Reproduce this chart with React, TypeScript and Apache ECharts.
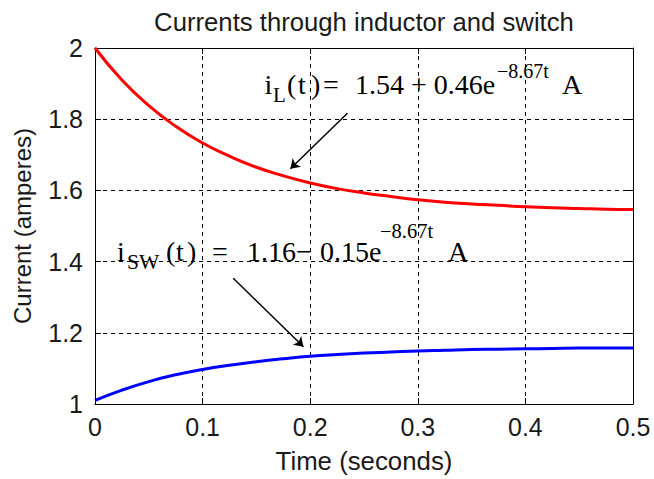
import React, { useEffect, useRef } from "react";
import * as echarts from "echarts";

// Time samples (seconds)
const times = [
  0, 0.025, 0.05, 0.075, 0.1, 0.125, 0.15, 0.175, 0.2, 0.225, 0.25, 0.275, 0.3,
  0.325, 0.35, 0.375, 0.4, 0.425, 0.45, 0.475, 0.5,
];
// Inductor current i_L(t) (amperes)
const inductorCurrent = [
  2.0, 1.91, 1.838, 1.78, 1.733, 1.696, 1.665, 1.641, 1.621, 1.605, 1.593,
  1.583, 1.574, 1.567, 1.562, 1.558, 1.554, 1.551, 1.549, 1.547, 1.546,
];
// Switch current i_SW(t) (amperes)
const switchCurrent = [
  1.01, 1.039, 1.063, 1.082, 1.097, 1.109, 1.119, 1.127, 1.134, 1.139, 1.143,
  1.146, 1.149, 1.151, 1.153, 1.154, 1.155, 1.156, 1.157, 1.157, 1.157,
];
// Axis ranges / ticks
const xRange = [0, 0.5];
const xStep = 0.1;
const yRange = [1, 2];
const yStep = 0.2;
// Arrow annotations in data coordinates [t, current]
const arrowInductor = [
  [0.2346, 1.8167],
  [0.1816, 1.661],
];
const arrowSwitch = [
  [0.1285, 1.353],
  [0.1937, 1.161],
];

const SANS = "'Liberation Sans', Arial, Helvetica, sans-serif";
const SERIF = "'Liberation Serif', 'Times New Roman', serif";

function piece(text: string, x: number, y: number, size: number) {
  return {
    type: "text",
    x,
    y,
    silent: true,
    z: 100,
    style: {
      text,
      fill: "#000",
      font: `${size}px ${SERIF}`,
      align: "left",
      verticalAlign: "middle",
    },
  };
}

export default function App() {
  const ref = useRef<HTMLDivElement>(null);

  useEffect(() => {
    const chart = echarts.init(ref.current!, null, { renderer: "svg" });

    const axisLabelStyle = {
      color: "#1a1a1a",
      fontSize: 25,
      fontFamily: SANS,
    };

    const option: any = {
      animation: false,
      backgroundColor: "#fff",
      title: {
        text: "Currents through inductor and switch",
        left: 359,
        top: 4,
        textAlign: "center",
        textStyle: {
          color: "#1a1a1a",
          fontSize: 25.7,
          fontWeight: "normal",
          fontFamily: SANS,
        },
      },
      grid: { left: 95, right: 21, top: 48, bottom: 71, containLabel: false },
      xAxis: [
        {
          type: "value",
          min: xRange[0],
          max: xRange[1],
          interval: xStep,
          name: "Time (seconds)",
          nameLocation: "middle",
          nameGap: 44,
          nameTextStyle: { ...axisLabelStyle, fontSize: 25.8 },
          axisLine: { show: true, onZero: false, lineStyle: { color: "#000", width: 1 } },
          axisTick: { show: true, inside: true, length: 6, lineStyle: { color: "#000" } },
          axisLabel: { ...axisLabelStyle, margin: 10 },
          splitLine: {
            show: true,
            lineStyle: { color: "#000", width: 1, type: [4, 4] },
          },
        },
        {
          type: "value",
          position: "top",
          min: xRange[0],
          max: xRange[1],
          interval: xStep,
          axisLine: { show: true, onZero: false, lineStyle: { color: "#000", width: 1 } },
          axisTick: { show: true, inside: true, length: 6, lineStyle: { color: "#000" } },
          axisLabel: { show: false },
          splitLine: { show: false },
        },
      ],
      yAxis: [
        {
          type: "value",
          min: yRange[0],
          max: yRange[1],
          interval: yStep,
          name: "Current (amperes)",
          nameLocation: "middle",
          nameRotate: 90,
          nameGap: 61,
          nameTextStyle: { ...axisLabelStyle, fontSize: 24 },
          axisLine: { show: true, onZero: false, lineStyle: { color: "#000", width: 1 } },
          axisTick: { show: true, inside: true, length: 6, lineStyle: { color: "#000" } },
          axisLabel: { ...axisLabelStyle, margin: 12 },
          splitLine: {
            show: true,
            lineStyle: { color: "#000", width: 1, type: [4, 4] },
          },
        },
        {
          type: "value",
          position: "right",
          min: yRange[0],
          max: yRange[1],
          interval: yStep,
          axisLine: { show: true, onZero: false, lineStyle: { color: "#000", width: 1 } },
          axisTick: { show: true, inside: true, length: 6, lineStyle: { color: "#000" } },
          axisLabel: { show: false },
          splitLine: { show: false },
        },
      ],
      series: [
        {
          name: "iL",
          type: "line",
          xAxisIndex: 0,
          yAxisIndex: 0,
          data: times.map((t, i) => [t, inductorCurrent[i]]),
          showSymbol: false,
          smooth: true,
          lineStyle: { color: "#ff0000", width: 3 },
          itemStyle: { color: "#ff0000" },
          z: 5,
          markLine: {
            silent: true,
            symbol: ["none", "arrow"],
            symbolSize: 9,
            label: { show: false },
            lineStyle: { color: "#000", width: 1.5, type: "solid" },
            data: [
              [
                { coord: arrowInductor[0] },
                { coord: arrowInductor[1] },
              ],
            ],
          },
        },
        {
          name: "isw",
          type: "line",
          xAxisIndex: 0,
          yAxisIndex: 0,
          data: times.map((t, i) => [t, switchCurrent[i]]),
          showSymbol: false,
          smooth: true,
          lineStyle: { color: "#0000ff", width: 3 },
          itemStyle: { color: "#0000ff" },
          z: 5,
          markLine: {
            silent: true,
            symbol: ["none", "arrow"],
            symbolSize: 9,
            label: { show: false },
            lineStyle: { color: "#000", width: 1.5, type: "solid" },
            data: [
              [
                { coord: arrowSwitch[0] },
                { coord: arrowSwitch[1] },
              ],
            ],
          },
        },
      ],
      graphic: [
        // i_L(t) = 1.54 + 0.46 e^{-8.67t} A
        piece("i", 264.5, 84, 28),
        piece("L", 273, 95, 21),
        piece("(", 287, 84, 28),
        piece("t", 298, 84, 28),
        piece(")", 311, 84, 28),
        piece("=", 323, 84, 28),
        piece("1.54 + 0.46e", 355, 84, 28),
        piece("\u22128.67t", 497, 71, 20),
        piece("A", 562, 84, 28),
        // i_SW(t) = 1.16 - 0.15 e^{-8.67t} A
        piece("i", 117, 251.5, 28),
        piece("SW", 127, 261.5, 21.5),
        piece("(", 166, 251.5, 28),
        piece("t", 176, 251.5, 28),
        piece(")", 187, 251.5, 28),
        piece("=", 212, 251.5, 28),
        piece("1.16", 247, 251.5, 28),
        piece("\u2212", 296, 251.5, 28),
        piece("0.15e", 320, 251.5, 28),
        piece("\u22128.67t", 380, 231, 20.5),
        piece("A", 448, 251.5, 28),
      ],
    };

    chart.setOption(option);
    return () => chart.dispose();
  }, []);

  return (
    <div
      ref={ref}
      style={{ position: "fixed", left: 0, top: 0, width: 654, height: 479 }}
    />
  );
}
